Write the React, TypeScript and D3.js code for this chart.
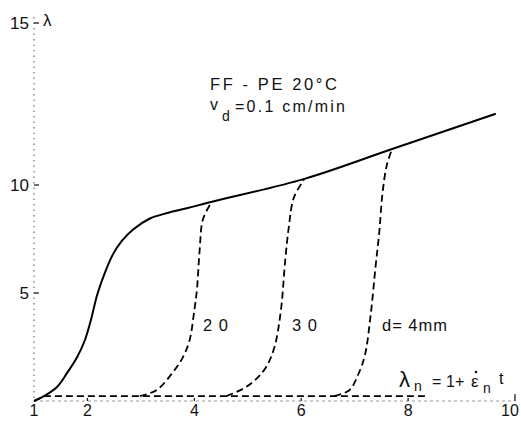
import React from "react";
import * as d3 from "d3";

const W = 521;
const H = 422;

// Data (x = λn, y = λ)
const solidX = [1.0, 1.17, 1.43, 1.62, 1.8, 1.95, 2.07, 2.18, 2.32, 2.48, 2.64, 2.86, 3.17, 3.49, 3.86, 4.29, 6.06, 7.7, 9.64];
const solidY = [0.0, 0.2, 0.65, 1.3, 2.0, 2.8, 3.8, 4.9, 5.9, 6.8, 7.4, 7.95, 8.45, 8.7, 8.92, 9.2, 10.19, 11.11, 12.2];

const baseX = [1.0, 1.2, 8.33];
const baseY = [0.0, 0.23, 0.23];

const d20X = [2.98, 3.29, 3.59, 3.78, 3.91, 4.0, 4.05, 4.1, 4.16, 4.32];
const d20Y = [0.23, 0.5, 1.3, 2.0, 2.8, 4.2, 5.2, 7.0, 8.4, 9.2];

const d30X = [4.6, 4.9, 5.15, 5.35, 5.5, 5.62, 5.7, 5.77, 5.86, 6.06];
const d30Y = [0.23, 0.55, 1.0, 1.6, 2.5, 4.2, 6.5, 8.1, 9.4, 10.19];

const d4X = [6.62, 6.9, 7.07, 7.19, 7.3, 7.39, 7.46, 7.52, 7.6, 7.7];
const d4Y = [0.23, 0.5, 1.25, 2.1, 4.0, 6.2, 7.8, 9.6, 10.6, 11.11];

const xTicks = [1, 2, 4, 6, 8, 10];
const yTicks = [5, 10, 15];

const zip = (xs: number[], ys: number[]) => xs.map((x, i) => [x, ys[i]] as [number, number]);

export default function App() {
  const x = d3.scaleLinear().domain([1, 10]).range([34, 515]);
  const y = d3.scaleLinear().domain([0, 10, 15]).range([401, 185, 23]);
  const line = d3
    .line<[number, number]>()
    .x((d) => x(d[0]))
    .y((d) => y(d[1]))
    .curve(d3.curveCatmullRom.alpha(0.5));
  const straight = d3
    .line<[number, number]>()
    .x((d) => x(d[0]))
    .y((d) => y(d[1]));

  const font = "'Liberation Sans', Arial, sans-serif";
  const dash = "7 4";

  return (
    <svg
      width={W}
      height={H}
      style={{ position: "absolute", left: 0, top: 0, background: "#fff" }}
      fontFamily={font}
    >
      {/* axes (faint, dotted as in the scan) */}
      <line x1={x(1)} x2={x(1)} y1={y(15) - 6} y2={y(0)} stroke="#555" strokeWidth={1} strokeDasharray="1.5 4" />
      <line x1={x(1)} x2={x(10)} y1={y(0)} y2={y(0)} stroke="#999" strokeWidth={1} strokeDasharray="3 3" />

      {yTicks.map((t) => (
        <g key={t}>
          <line x1={x(1)} x2={x(1) + 5} y1={y(t)} y2={y(t)} stroke="#222" strokeWidth={1.3} />
          <text x={x(1) - 5} y={y(t) + 6} fontSize={17} textAnchor="end" fill="#111">
            {t}
          </text>
        </g>
      ))}
      {xTicks.map((t) => (
        <g key={t}>
          {t > 1 && (
            <line x1={x(t)} x2={x(t)} y1={y(0)} y2={y(0) - (t === 10 ? 7 : 3)} stroke="#222" strokeWidth={1.3} />
          )}
          <text x={x(t) + (t === 10 ? -5 : 0)} y={416} fontSize={16} textAnchor="middle" fill="#111">
            {t}
          </text>
        </g>
      ))}

      {/* curves */}
      <path d={line(zip(solidX, solidY)) || ""} fill="none" stroke="#000" strokeWidth={2} />
      <path d={straight(zip(baseX, baseY)) || ""} fill="none" stroke="#000" strokeWidth={1.8} strokeDasharray={dash} />
      <path d={line(zip(d20X, d20Y)) || ""} fill="none" stroke="#000" strokeWidth={1.8} strokeDasharray={dash} />
      <path d={line(zip(d30X, d30Y)) || ""} fill="none" stroke="#000" strokeWidth={1.8} strokeDasharray={dash} />
      <path d={line(zip(d4X, d4Y)) || ""} fill="none" stroke="#000" strokeWidth={1.8} strokeDasharray={dash} />

      {/* labels */}
      <text x={43} y={26} fontSize={17} fill="#111">λ</text>
      <text x={210} y={90} fontSize={16.5} textLength={127} lengthAdjust="spacing" fill="#111">
        FF - PE  20°C
      </text>
      <text x={210} y={110} fontSize={16} fill="#111">v</text>
      <text x={222} y={121} fontSize={14} fill="#111">d</text>
      <text x={235} y={112} fontSize={16} textLength={110} lengthAdjust="spacing" fill="#111">
        =0.1 cm/min
      </text>
      <text x={203} y={331} fontSize={16.5} textLength={25} lengthAdjust="spacing" fill="#111">20</text>
      <text x={292} y={331} fontSize={16.5} textLength={25} lengthAdjust="spacing" fill="#111">30</text>
      <text x={382} y={331} fontSize={16.5} textLength={65} lengthAdjust="spacing" fill="#111">d= 4mm</text>

      <text x={399} y={387} fontSize={22} fill="#111">λ</text>
      <text x={414} y={391} fontSize={14} fill="#111">n</text>
      <text x={432} y={387} fontSize={16} fill="#111">=</text>
      <text x={446} y={387} fontSize={16} fill="#111">1+</text>
      <text x={471} y={387} fontSize={17} fill="#111">ε</text>
      <circle cx={476} cy={372} r={1.3} fill="#111" />
      <text x={483} y={393} fontSize={14} fill="#111">n</text>
      <text x={499} y={384} fontSize={16} fill="#111">t</text>
    </svg>
  );
}
